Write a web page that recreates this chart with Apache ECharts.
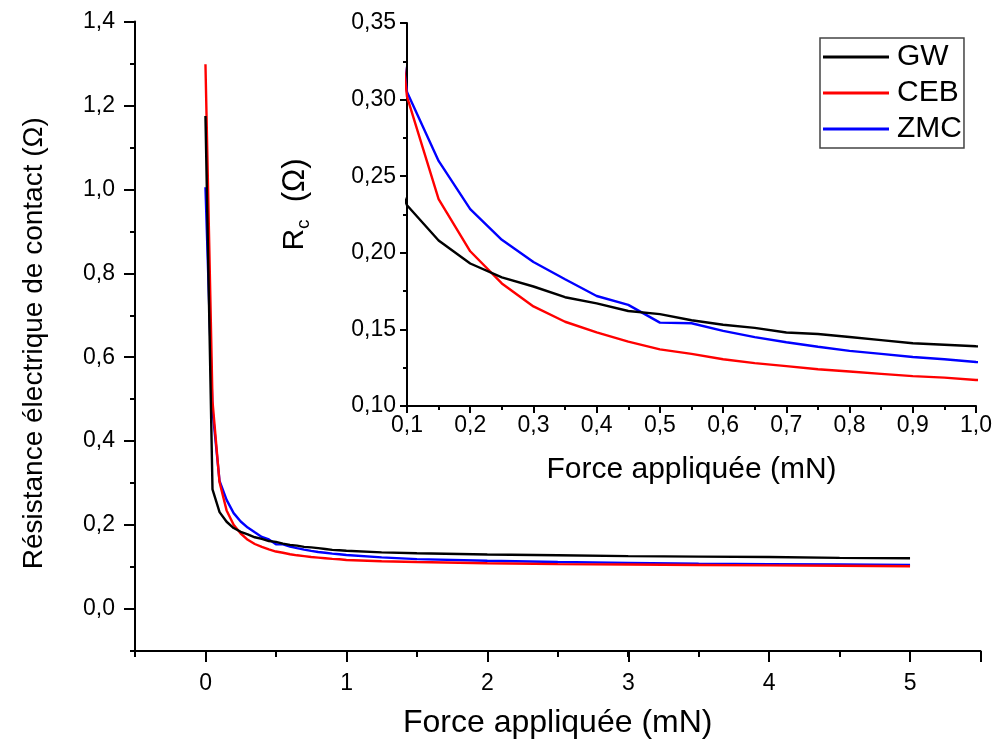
<!DOCTYPE html>
<html>
<head>
<meta charset="utf-8">
<script src="https://cdn.jsdelivr.net/npm/echarts@6/dist/echarts.min.js"></script>
<style>
html,body{margin:0;padding:0;background:#fff;}
#c{width:995px;height:744px;}
</style>
</head>
<body>
<div id="c"></div>
<script>
// Force appliquée (mN)
var force = [0, 0.05, 0.1, 0.15, 0.2, 0.25, 0.3, 0.35, 0.4, 0.45, 0.5, 0.55, 0.6, 0.65, 0.7, 0.75, 0.8, 0.85, 0.9, 0.95, 1.0, 1.25, 1.5, 2, 2.5, 3, 3.5, 4, 4.5, 5];
// Résistance (Ω)
var gw  = [1.175, 0.285, 0.231, 0.208, 0.193, 0.184, 0.178, 0.171, 0.167, 0.162, 0.160, 0.156, 0.153, 0.151, 0.148, 0.147, 0.145, 0.143, 0.141, 0.140, 0.139, 0.135, 0.133, 0.130, 0.128, 0.126, 0.125, 0.124, 0.122, 0.121];
var ceb = [1.298, 0.495, 0.302, 0.235, 0.201, 0.180, 0.165, 0.155, 0.148, 0.142, 0.137, 0.134, 0.1305, 0.128, 0.126, 0.124, 0.1225, 0.121, 0.1195, 0.1185, 0.117, 0.114, 0.112, 0.109, 0.107, 0.106, 0.105, 0.104, 0.103, 0.102];
var zmc = [1.005, 0.474, 0.305, 0.260, 0.2285, 0.2085, 0.194, 0.1827, 0.1718, 0.166, 0.1544, 0.154, 0.149, 0.145, 0.1416, 0.1387, 0.136, 0.134, 0.132, 0.1305, 0.1287, 0.123, 0.119, 0.115, 0.112, 0.110, 0.108, 0.107, 0.106, 0.105];
var seriesNames = ['GW', 'CEB', 'ZMC'];
var seriesColors = ['#000000', '#ff0000', '#0000ff'];
var seriesValues = [gw, ceb, zmc];

function pairs(ys){ return force.map(function(x,i){ return [x, ys[i]]; }); }
function comma(v, d){ return v.toFixed(d).replace('.', ','); }

var FONT = '"Liberation Sans", Arial, sans-serif';
var AX = {onZero:false, lineStyle:{color:'#000', width:2}};

var series = [];
seriesValues.forEach(function(ys, i){
  series.push({name: seriesNames[i], type:'line', xAxisIndex:0, yAxisIndex:0, data: pairs(ys), symbol:'none', showSymbol:false, clip:true,
    lineStyle:{color: seriesColors[i], width:2.4}, itemStyle:{color: seriesColors[i]}, z: 3 + (2 - i)});
});
seriesValues.forEach(function(ys, i){
  series.push({name: seriesNames[i], type:'line', xAxisIndex:2, yAxisIndex:2, data: pairs(ys), symbol:'none', showSymbol:false, clip:true,
    lineStyle:{color: seriesColors[i], width:2.4}, itemStyle:{color: seriesColors[i]}, z: 3 + (2 - i)});
});

var chart = echarts.init(document.getElementById('c'), null, {renderer:'canvas'});
chart.setOption({
  animation:false,
  backgroundColor:'#fff',
  textStyle:{fontFamily: FONT},
  grid:[
    {left:135, right:14.5, top:21.5, bottom:93},
    {left:205.7, right:14.5, top:21.5, bottom:135},
    {left:407, right:16.7, top:23, bottom:338}
  ],
  legend:{
    data: seriesNames.map(function(n, i){ return {name:n, icon:'rect', itemStyle:{color:seriesColors[i]}}; }),
    orient:'vertical', left:820, top:38,
    itemWidth:66, itemHeight:3, itemGap:0,
    padding:[1,2,1,3], borderColor:'#444', borderWidth:1.5,
    textStyle:{fontFamily:FONT, fontSize:30, color:'#000', lineHeight:36, padding:[0,0,0,3]}
  },
  xAxis:[
    {gridIndex:0, type:'value', min:-0.5, max:5.5, interval:0.5, position:'bottom',
     axisLine:AX, axisTick:{show:true, length:6, lineStyle:{color:'#000', width:2}}, axisLabel:{show:false}, splitLine:{show:false},
     name:'Force appliquée (mN)', nameLocation:'middle', nameGap:56,
     nameTextStyle:{fontFamily:FONT, fontSize:32, color:'#000'}},
    {gridIndex:1, type:'value', min:0, max:5.5, interval:1, position:'bottom', offset:42,
     axisLine:{show:false, onZero:false}, axisTick:{show:true, length:11, lineStyle:{color:'#000', width:2}},
     axisLabel:{show:true, fontFamily:FONT, fontSize:23, color:'#000', margin:21,
       formatter:function(v){ return v > 5 ? '' : String(Math.round(v)); }},
     splitLine:{show:false}},
    {gridIndex:2, type:'value', min:0.1, max:1.0, interval:0.1, position:'bottom',
     axisLine:AX, axisTick:{show:true, length:7, lineStyle:{color:'#000', width:2}},
     minorTick:{show:true, splitNumber:2, length:4, lineStyle:{color:'#000', width:2}},
     axisLabel:{show:true, fontFamily:FONT, fontSize:23, color:'#000', margin:8,
       formatter:function(v){ return comma(v,1); }},
     splitLine:{show:false}, minorSplitLine:{show:false},
     name:'Force appliquée (mN)', nameLocation:'middle', nameGap:49,
     nameTextStyle:{fontFamily:FONT, fontSize:30, color:'#000'}}
  ],
  yAxis:[
    {gridIndex:0, type:'value', min:-0.1, max:1.4, interval:0.1, position:'left',
     axisLine:AX, axisTick:{show:true, length:5, lineStyle:{color:'#000', width:2}}, axisLabel:{show:false}, splitLine:{show:false},
     name:'Résistance électrique de contact (Ω)', nameLocation:'middle', nameGap:87,
     nameTextStyle:{fontFamily:FONT, fontSize:28, color:'#000', padding:[0,14,0,0]}},
    {gridIndex:1, type:'value', min:0, max:1.4, interval:0.2, position:'left', offset:70.7,
     axisLine:{show:false, onZero:false}, axisTick:{show:true, length:11, lineStyle:{color:'#000', width:2}},
     axisLabel:{show:true, fontFamily:FONT, fontSize:23, color:'#000', margin:20,
       formatter:function(v){ return comma(v,1); }},
     splitLine:{show:false}},
    {gridIndex:2, type:'value', min:0.1, max:0.35, interval:0.05, position:'left',
     axisLine:AX, axisTick:{show:true, length:7, lineStyle:{color:'#000', width:2}},
     minorTick:{show:true, splitNumber:2, length:4, lineStyle:{color:'#000', width:2}},
     axisLabel:{show:true, fontFamily:FONT, fontSize:23, color:'#000', margin:11,
       formatter:function(v){ return comma(v,2); }},
     splitLine:{show:false}, minorSplitLine:{show:false},
     name:'{r|R}{s|c}{p|  (Ω)}', nameLocation:'middle', nameGap:94,
     nameTextStyle:{fontFamily:FONT, fontSize:30, color:'#000', padding:[0,0,0,20],
       rich:{r:{fontFamily:FONT, fontSize:30, color:'#000', lineHeight:36, verticalAlign:'middle'},
             s:{fontFamily:FONT, fontSize:19, color:'#000', lineHeight:19, verticalAlign:'bottom'},
             p:{fontFamily:FONT, fontSize:31, color:'#000', lineHeight:36, verticalAlign:'middle'}}}}
  ],
  series: series
});
</script>
</body>
</html>
